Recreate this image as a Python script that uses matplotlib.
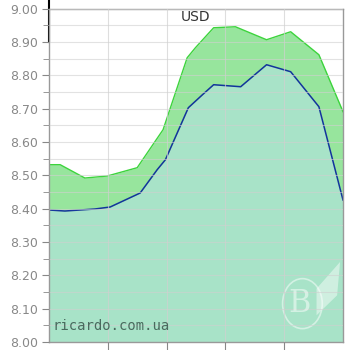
import numpy as np
import matplotlib as mpl
mpl.use("Agg")

import matplotlib.pyplot as plt
from matplotlib.patches import Ellipse, Polygon

# upper (sell) and lower (buy) rate, x in grid units (grid every 1.0)
high_x = [0, 0.19, 0.61, 0.99, 1.50, 1.94, 2.35, 2.49, 2.80, 3.17, 3.70, 4.11, 4.59, 5.0]
high_y = [8.532, 8.532, 8.492, 8.498, 8.523, 8.637, 8.853, 8.883, 8.943, 8.946, 8.907, 8.931, 8.862, 8.691]
low_x = [0, 0.27, 0.78, 1.04, 1.55, 1.84, 1.98, 2.37, 2.61, 2.80, 3.26, 3.70, 4.11, 4.59, 5.0]
low_y = [8.396, 8.393, 8.399, 8.405, 8.447, 8.517, 8.547, 8.703, 8.742, 8.772, 8.766, 8.832, 8.811, 8.706, 8.426]

y_ticks = np.arange(8.0, 9.001, 0.1)
y_labels = ["%.2f" % v for v in y_ticks]
x_ticks = [1, 2, 3, 4]

fig = plt.figure(figsize=(3.5, 3.5), dpi=100)
ax = fig.add_axes([0.14, 0.023, 0.84, 0.952])

ax.fill_between(high_x, high_y, 8.0, color='#97e59d', lw=0)
ax.plot(high_x, high_y, color='#3cd43c', lw=1.0)
ax.fill_between(low_x, low_y, 8.0, color='#a8e3c8', lw=0)
ax.plot(low_x, low_y, color='#12349c', lw=1.1)

ax.set_xlim(0, 5)
ax.set_ylim(8.0, 9.0)
ax.set_yticks(y_ticks)
ax.set_yticklabels(y_labels)
ax.set_yticks(np.arange(8.05, 9.0, 0.1), minor=True)
ax.set_xticks(x_ticks)
ax.set_xticklabels([])

ax.grid(True, which='both', axis='y', color='#d0d0d0', lw=0.8, alpha=0.6)
ax.grid(True, which='major', axis='x', color='#d0d0d0', lw=0.8, alpha=0.7)
ax.set_axisbelow(False)

ax.tick_params(axis='y', which='major', length=5, color='#888888', labelcolor='#888888', labelsize=9, pad=3)
ax.tick_params(axis='y', which='minor', length=4, color='#888888')
ax.tick_params(axis='x', length=6, color='#888888')
for s in ax.spines.values():
    s.set_color('#999999')
    s.set_linewidth(1.0)

ax.plot([0, 0], [8.9, 9.03], color='black', lw=1.5, clip_on=False)

ax.text(0.5, 0.975, 'USD', transform=ax.transAxes, ha='center', va='center', fontsize=10, color='#333333')
ax.text(0.012, 0.035, 'ricardo.com.ua', transform=ax.transAxes, ha='left', va='baseline',
        fontsize=10, family='DejaVu Sans Mono', color='#4a6a5e')

# faint watermark logo
ax.add_patch(Ellipse((0.862, 0.115), 0.135, 0.15, transform=ax.transAxes, fill=False,
                     ec='white', lw=1.2, alpha=0.5))
ax.text(0.852, 0.115, 'B', transform=ax.transAxes, ha='center', va='center', fontsize=22,
        family='DejaVu Serif', color='white', alpha=0.5)
ax.add_patch(Polygon([(0.91, 0.08), (0.91, 0.16), (0.95, 0.2), (0.99, 0.24), (0.98, 0.14)],
                     closed=True, transform=ax.transAxes, fc='white', ec='none', alpha=0.45))

plt.savefig("out.png")
